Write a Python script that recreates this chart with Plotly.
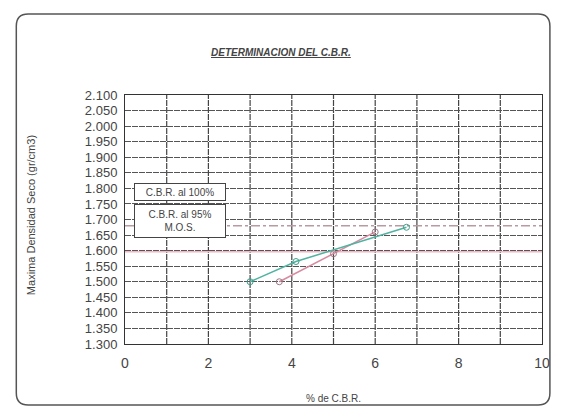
import plotly.graph_objects as go

# Data
y_ticks = [1.30 + 0.05 * i for i in range(17)]
y_tick_labels = [f"{v:.3f}" for v in y_ticks]
x_ticks = [0, 2, 4, 6, 8, 10]

cbr_teal_x = [3.0, 4.1, 6.75]
cbr_teal_y = [1.500, 1.565, 1.675]
cbr_pink_x = [3.7, 5.0, 6.0]
cbr_pink_y = [1.500, 1.590, 1.660]

mds_100 = 1.680
mds_95 = 1.596

fig = go.Figure()

fig.add_trace(go.Scatter(x=[0, 10], y=[mds_100, mds_100], mode="lines",
                         line=dict(color="#b89aa2", width=1.5, dash="dashdot"),
                         showlegend=False))
fig.add_trace(go.Scatter(x=[0, 10], y=[mds_95, mds_95], mode="lines",
                         line=dict(color="#f0b8c4", width=1.5),
                         showlegend=False))
fig.add_trace(go.Scatter(x=cbr_pink_x, y=cbr_pink_y, mode="lines+markers",
                         line=dict(color="#d88aa0", width=1.5),
                         marker=dict(symbol="circle-open", size=6, color="#a07a86"),
                         showlegend=False))
fig.add_trace(go.Scatter(x=cbr_teal_x, y=cbr_teal_y, mode="lines+markers",
                         line=dict(color="#4fb3a0", width=1.5),
                         marker=dict(symbol="circle-open", size=6, color="#3f9f8a"),
                         showlegend=False))

font_fam = "Liberation Sans Narrow, Liberation Sans, Arial, sans-serif"

# page body has an 8px margin; figure sized so the chart fills the window
fig.update_layout(
    width=554, height=398,
    margin=dict(l=117, r=15, t=87, b=62),
    paper_bgcolor="white", plot_bgcolor="white",
    font=dict(family=font_fam, size=11, color="#333"),
    xaxis=dict(range=[0, 10], tickvals=x_ticks, ticktext=[str(v) for v in x_ticks],
               showgrid=False, zeroline=False, showline=True,
               linecolor="#333", linewidth=1, mirror=True, ticklabelstandoff=6,
               ticks="", tickfont=dict(size=14, family=font_fam, color="#444")),
    yaxis=dict(range=[1.30, 2.10], tickvals=y_ticks, ticktext=y_tick_labels,
               showgrid=True, gridcolor="#555", gridwidth=1, griddash="6px,1px",
               zeroline=False, showline=True, linecolor="#333", linewidth=1,
               mirror=True, ticks="", ticklabelstandoff=4,
               tickfont=dict(size=13, family=font_fam, color="#444")),
)

# vertical gridlines every 1 unit
for xv in range(1, 10):
    fig.add_shape(type="line", xref="x", yref="paper", x0=xv, x1=xv, y0=0, y1=1,
                  line=dict(color="#444", width=1.2, dash="6px,1px"), layer="below")

# Title
fig.add_annotation(text="<b><i><u>DETERMINACION DEL C.B.R.</u></i></b>", xref="paper", yref="paper",
                   x=(283 - 125) / 422, y=(344 - 52) / 249, xanchor="center", yanchor="middle",
                   showarrow=False,
                   font=dict(size=10, family="Liberation Sans, Arial", color="#444"))
# Axis titles
fig.add_annotation(text="% de C.B.R.", xref="paper", yref="paper",
                   x=0.5, y=(344 - 398) / 249, xanchor="center", yanchor="middle",
                   showarrow=False,
                   font=dict(size=10, family="Liberation Sans, Arial", color="#444"))
fig.add_annotation(text="Maxima Densidad Seco (gr/cm3)", xref="paper", yref="paper",
                   x=(30 - 125) / 422, y=(344 - 215) / 249, xanchor="center", yanchor="middle",
                   showarrow=False, textangle=-90,
                   font=dict(size=11, family="Liberation Sans, Arial", color="#444"))

# Label boxes
fig.add_annotation(text="C.B.R. al 100%", xref="paper", yref="paper",
                   x=(181 - 125) / 422, y=(344 - 192) / 249, xanchor="center", yanchor="middle",
                   showarrow=False,
                   width=88, height=14, bgcolor="white", bordercolor="#444", borderwidth=1,
                   font=dict(size=10, family="Liberation Sans, Arial", color="#444"))
fig.add_annotation(text="C.B.R. al 95%<br>M.O.S.", xref="paper", yref="paper",
                   x=(181 - 125) / 422, y=(344 - 221) / 249, xanchor="center", yanchor="middle",
                   showarrow=False,
                   width=88, height=30, bgcolor="white", bordercolor="#444", borderwidth=1,
                   font=dict(size=10, family="Liberation Sans, Arial", color="#444"))

# Rounded outer frame
L, R = (15 - 125) / 422, (555 - 125) / 422
T, B = (344 - 14) / 249, (344 - 405) / 249
rx, ry = 12 / 422, 12 / 249
path = (f"M {L+rx},{T} L {R-rx},{T} Q {R},{T} {R},{T-ry} L {R},{B+ry} Q {R},{B} {R-rx},{B} "
        f"L {L+rx},{B} Q {L},{B} {L},{B+ry} L {L},{T-ry} Q {L},{T} {L+rx},{T} Z")
fig.add_shape(type="path", xref="paper", yref="paper", path=path,
              line=dict(color="#555", width=1.5), layer="below")

fig.write_html("out.html")
